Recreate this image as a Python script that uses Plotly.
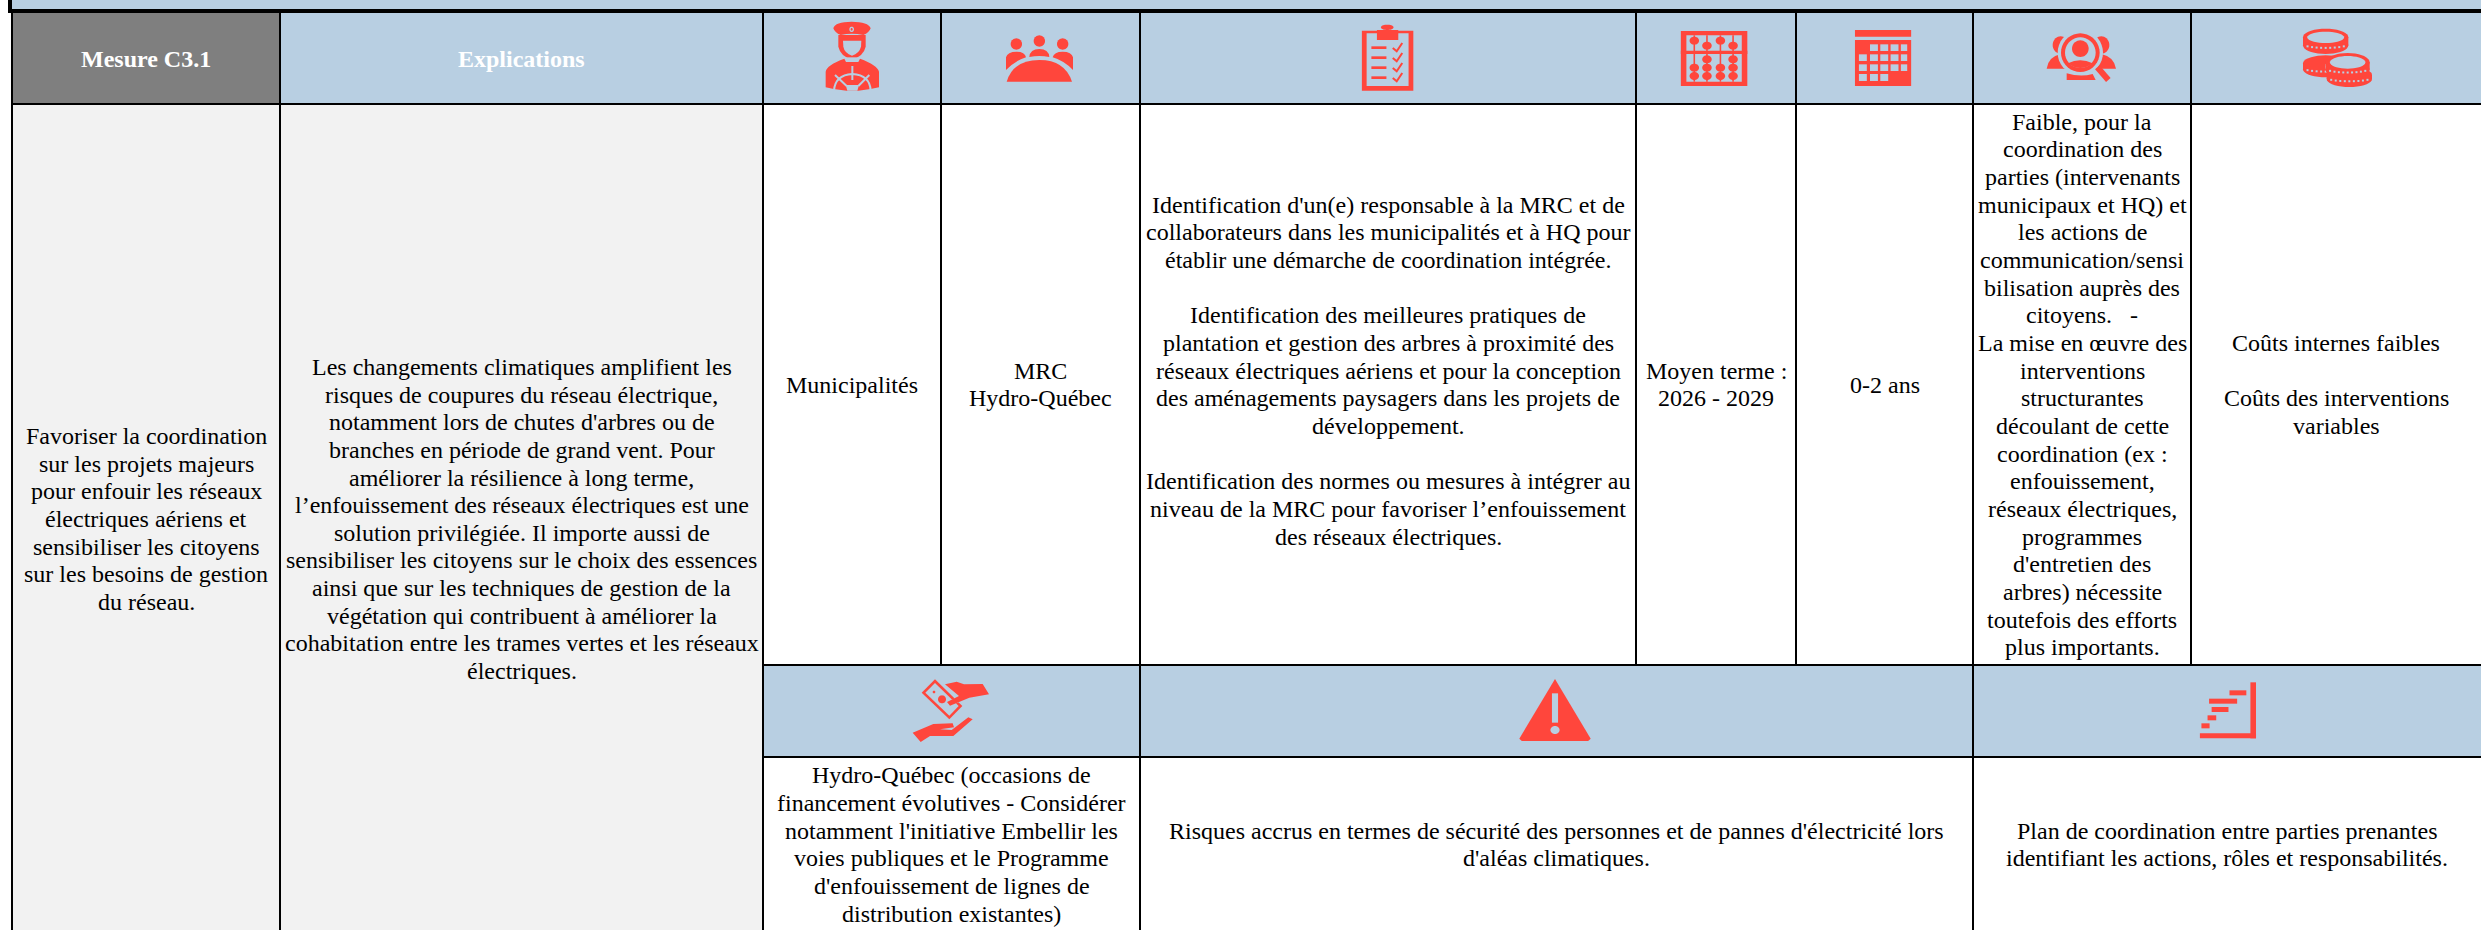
import math
import plotly.graph_objects as go

# ---------- content ----------
header_left = ["Mesure C3.1", "Explications"]
measure_lines = ["Favoriser la coordination", "sur les projets majeurs", "pour enfouir les réseaux",
                 "électriques aériens et", "sensibiliser les citoyens", "sur les besoins de gestion", "du réseau."]
explain_lines = ["Les changements climatiques amplifient les", "risques de coupures du réseau électrique,",
                 "notamment lors de chutes d'arbres ou de", "branches en période de grand vent. Pour",
                 "améliorer la résilience à long terme,", "l’enfouissement des réseaux électriques est une",
                 "solution privilégiée. Il importe aussi de", "sensibiliser les citoyens sur le choix des essences",
                 "ainsi que sur les techniques de gestion de la", "végétation qui contribuent à améliorer la",
                 "cohabitation entre les trames vertes et les réseaux", "électriques."]
who_lines = ["Municipalités"]
partner_lines = ["MRC", "Hydro-Québec"]
action_lines = ["Identification d'un(e) responsable à la MRC et de", "collaborateurs dans les municipalités et à HQ pour",
                "établir une démarche de coordination intégrée.", "",
                "Identification des meilleures pratiques de", "plantation et gestion des arbres à proximité des",
                "réseaux électriques aériens et pour la conception", "des aménagements paysagers dans les projets de",
                "développement.", "",
                "Identification des normes ou mesures à intégrer au", "niveau de la MRC pour favoriser l’enfouissement",
                "des réseaux électriques.", ""]
term_lines = ["Moyen terme :", "2026 - 2029"]
duration_lines = ["0-2 ans"]
effort_lines = ["Faible, pour la", "coordination des", "parties (intervenants", "municipaux et HQ) et",
                "les actions de", "communication/sensi", "bilisation auprès des", "citoyens.   -",
                "La mise en œuvre des", "interventions", "structurantes", "découlant de cette", "coordination (ex :",
                "enfouissement,", "réseaux électriques,", "programmes", "d'entretien des", "arbres) nécessite",
                "toutefois des efforts", "plus importants."]
cost_lines = ["Coûts internes faibles", "", "Coûts des interventions", "variables"]
funding_lines = ["Hydro-Québec (occasions de", "financement évolutives - Considérer",
                 "notamment l'initiative Embellir les", "voies publiques et le Programme",
                 "d'enfouissement de lignes de", "distribution existantes)"]
risk_lines = ["Risques accrus en termes de sécurité des personnes et de pannes d'électricité lors",
              "d'aléas climatiques."]
deliver_lines = ["Plan de coordination entre parties prenantes",
                 "identifiant les actions, rôles et responsabilités."]

# ---------- layout of the page ----------
W, H = 2481, 930
BLUE, RED, GREY, PALE = "#B8CFE2", "#FF463C", "#7F7F7F", "#F2F2F2"
FONT = "Liberation Serif"
FS = 24
LH = 27.65
C = [12, 280, 763, 941, 1140, 1636, 1796, 1973, 2191, W]
Y_TOP, Y_HEAD, Y_MID1, Y_MID2 = 13, 104, 665, 757

shapes, annos = [], []


def rect(x0, y0, x1, y1, color):
    shapes.append(dict(type="rect", x0=x0, y0=y0, x1=x1, y1=y1, fillcolor=color,
                       line=dict(width=0), layer="below", xref="x", yref="y"))


def line(x0, y0, x1, y1, w=2, color="black"):
    shapes.append(dict(type="line", x0=x0, y0=y0, x1=x1, y1=y1, line=dict(color=color, width=w),
                       layer="below", xref="x", yref="y"))


def text(cx, cy, lines, color="black", bold=False, size=FS):
    n = len(lines)
    for i, ln in enumerate(lines):
        if not ln:
            continue
        t = "<b>" + ln + "</b>" if bold else ln
        annos.append(dict(x=cx, y=cy + (i - (n - 1) / 2) * LH, xref="x", yref="y", text=t, showarrow=False,
                          xanchor="center", yanchor="middle", align="center",
                          font=dict(family=FONT, size=size, color=color)))


def path(d, fill=RED, stroke=None, w=0):
    s = dict(type="path", path=d, xref="x", yref="y", layer="below",
             line=dict(width=w, color=stroke or "rgba(0,0,0,0)"))
    s["fillcolor"] = fill if fill else "rgba(0,0,0,0)"
    shapes.append(s)


class Ico:
    """Draws in zoom-space coordinates: (ox + u/sx, oy + v/sy)."""
    def __init__(self, ox, oy, sx=3.0, sy=3.0):
        self.ox, self.oy, self.sx, self.sy = ox, oy, sx, sy

    def p(self, u, v):
        return f"{self.ox + u / self.sx:.2f},{self.oy + v / self.sy:.2f}"

    def poly(self, pts, fill=RED):
        path("M" + " L".join(self.p(*q) for q in pts) + " Z", fill)

    def ell(self, cx, cy, rx, ry=None, fill=RED, stroke=None, w=0):
        ry = rx if ry is None else ry
        pts = [(cx + rx * math.cos(a * math.pi / 18), cy + ry * math.sin(a * math.pi / 18)) for a in range(36)]
        path("M" + " L".join(self.p(*q) for q in pts) + " Z", fill, stroke, w)

    def curve(self, d, fill=RED, stroke=None, w=0):
        out = []
        for seg in d:
            k, *c = seg
            pairs = [self.p(c[i], c[i + 1]) for i in range(0, len(c), 2)]
            out.append(k + " ".join(pairs))
        path(" ".join(out), fill, stroke, w)

    def seg(self, u0, v0, u1, v1, w=2, color=BLUE):
        line(self.ox + u0 / self.sx, self.oy + v0 / self.sy, self.ox + u1 / self.sx, self.oy + v1 / self.sy, w, color)


# ---------- backgrounds ----------
rect(10, 0, W, Y_TOP, BLUE)
rect(C[0], Y_TOP, C[1], Y_HEAD, GREY)
rect(C[1], Y_TOP, W, Y_HEAD, BLUE)
rect(C[0], Y_HEAD, C[2], H, PALE)
rect(C[2], Y_MID1, W, Y_MID2, BLUE)

# ---------- rules ----------
line(10, 0, 10, 13, 4)
line(C[0], Y_TOP, C[0], H, 2)
for x in C[1:9]:
    y_end = H if x in (280, 763, 1140, 1973) else Y_MID1
    line(x, Y_TOP, x, y_end, 2)
line(8, 11, W, 11, 4)
line(C[0], Y_HEAD, W, Y_HEAD, 2)
line(C[2], Y_MID1, W, Y_MID1, 2)
line(C[2], Y_MID2, W, Y_MID2, 2)

# ---------- texts ----------
mid = lambda a, b: (a + b) / 2
yc = mid(Y_HEAD, Y_MID1)
text(mid(C[0], C[1]), 59, header_left[:1], "white", True)
text(mid(C[1], C[2]), 59, header_left[1:], "white", True)
text(mid(C[0], C[1]), 519, measure_lines)
text(mid(C[1], C[2]), 519, explain_lines)
text(mid(C[2], C[3]), yc, who_lines)
text(mid(C[3], C[4]), yc, partner_lines)
text(mid(C[4], C[5]), yc, action_lines)
text(mid(C[5], C[6]), yc, term_lines)
text(mid(C[6], C[7]), yc, duration_lines)
text(mid(C[7], C[8]), yc, effort_lines)
text(mid(C[8], C[9]), yc, cost_lines)
yb = mid(Y_MID2, H) + 1
text(mid(C[2], C[4]), yb, funding_lines)
text(mid(C[4], C[7]), yb, risk_lines)
text(mid(C[7], C[9]), yb, deliver_lines)

# ---------- icons ----------
# captain
a = Ico(800, 0)
a.curve([("M", 115, 105), ("L", 197, 105), ("L", 197, 140), ("Q", 190, 170, 156, 178), ("Q", 122, 170, 115, 140), ("Z",)])
a.curve([("M", 129, 122), ("L", 184, 122), ("L", 183, 140), ("Q", 178, 160, 156, 167), ("Q", 134, 160, 130, 140), ("Z",)], BLUE)
a.curve([("M", 100, 85), ("Q", 105, 65, 155, 65), ("Q", 205, 65, 212, 85), ("Q", 208, 98, 190, 105), ("Q", 155, 97, 122, 105), ("Q", 104, 98, 100, 85), ("Z",)])
a.ell(155, 88, 7, 8, BLUE)
a.ell(155, 88, 3, 4, RED)
a.curve([("M", 138, 172), ("L", 175, 172), ("L", 175, 184), ("L", 138, 184), ("Z",)], BLUE)
a.curve([("M", 77, 215), ("Q", 80, 195, 133, 176), ("L", 138, 186), ("L", 175, 186), ("L", 180, 176),
         ("Q", 232, 195, 237, 215), ("L", 237, 262), ("Q", 205, 270, 175, 272), ("L", 140, 272), ("Q", 105, 270, 77, 262), ("Z",)])
a.seg(157, 198, 157, 240, 2)
a.seg(105, 225, 140, 258, 2)
a.seg(208, 225, 175, 258, 2)
a.curve([("M", 102, 272), ("Q", 105, 225, 157, 222), ("Q", 210, 225, 212, 272)], None, BLUE, 2)
a.poly([(137, 255), (177, 255), (172, 272), (142, 272)], BLUE)
# team
for cx, cy in ((649, 132), (718, 123), (788, 132)):
    a.ell(cx, cy, 17)
a.curve([("M", 618, 210), ("L", 618, 172), ("Q", 622, 155, 650, 155), ("Q", 675, 155, 678, 172), ("Q", 645, 182, 618, 210), ("Z",)])
a.curve([("M", 688, 171), ("Q", 690, 147, 718, 147), ("Q", 746, 147, 748, 171), ("Q", 718, 165, 688, 171), ("Z",)])
a.curve([("M", 819, 210), ("L", 819, 172), ("Q", 815, 155, 788, 155), ("Q", 762, 155, 758, 172), ("Q", 792, 182, 819, 210), ("Z",)])
a.curve([("M", 620, 245), ("Q", 640, 180, 718, 180), ("Q", 795, 180, 816, 245), ("Z",)])

# clipboard / abacus / calendar (anisotropic zoom)
b = Ico(1240, 0, 1568 / 1241, 3)
b.poly([(154, 92), (219, 92), (219, 272), (154, 272)])
b.poly([(160, 100), (213, 100), (213, 258), (160, 258)], BLUE)
b.poly([(173, 90), (200, 90), (200, 120), (173, 120)])
b.ell(186, 82, 8, 8)
for v in (142, 172, 202, 232):
    b.poly([(166, v - 3), (185, v - 3), (185, v + 5), (166, v + 5)])
    b.curve([("M", 193, v + 2), ("L", 198, v + 12), ("L", 205, v - 13)], None, RED, 2)
# abacus
b.poly([(557, 93), (641, 93), (641, 258), (557, 258)])
b.poly([(564, 106), (634, 106), (634, 245), (564, 245)], BLUE)
b.poly([(557, 152), (641, 152), (641, 162), (557, 162)])
beads = {574: (122, 203, 228), 590: (137, 178, 203, 228), 607: (122, 203, 228), 623: (137, 178, 203, 228)}
for u, vs in beads.items():
    b.poly([(u - 1, 106), (u + 1, 106), (u + 1, 245), (u - 1, 245)])
    for v in vs:
        b.ell(u, v, 6, 12)
# calendar
b.poly([(777, 90), (848, 90), (848, 110), (777, 110)])
b.poly([(777, 120), (848, 120), (848, 258), (777, 258)])
cols = [(782, 792), (796, 806), (809, 819), (822, 832), (835, 843)]
rows = [((133, 153), cols[1:]), ((163, 183), cols), ((193, 213), cols), ((222, 243), cols[:3])]
for (v0, v1), cc in rows:
    for u0, u1 in cc:
        b.poly([(u0, v0), (u1, v0), (u1, v1), (u0, v1)], BLUE)

# people search + coins
c = Ico(1900, 0)
c.ell(482, 135, 24, 26)
c.ell(604, 135, 24, 26)
c.curve([("M", 440, 206), ("Q", 445, 170, 482, 162), ("L", 510, 206), ("Z",)])
c.curve([("M", 648, 206), ("Q", 642, 170, 604, 162), ("L", 580, 206), ("Z",)])
c.ell(541, 158, 68, 68, BLUE)
c.ell(541, 158, 58, 58)
c.ell(541, 158, 46, 46, BLUE)
c.ell(541, 146, 25, 25)
c.curve([("M", 504, 190), ("Q", 540, 172, 578, 190), ("Q", 562, 204, 541, 204), ("Q", 520, 204, 504, 190), ("Z",)])
c.curve([("M", 500, 240), ("L", 500, 220), ("Q", 541, 232, 578, 222), ("L", 587, 240), ("Z",)])
c.seg(592, 202, 625, 240, 6, RED)


def coin(o, cx, cy, rx, ry, h, hole):
    o.ell(cx, cy + h, rx, ry)
    o.poly([(cx - rx, cy), (cx + rx, cy), (cx + rx, cy + h), (cx - rx, cy + h)])
    o.ell(cx, cy, rx, ry)
    if hole:
        o.ell(cx, cy, rx - 13, ry - 9, BLUE)
    for k in range(-4, 5):
        u = cx + k * rx * 0.2
        v = cy + h + ry * 0.45 * math.sqrt(max(0.0, 1 - (k * 0.2) ** 2)) - 4
        o.poly([(u - 3, v - 3), (u + 3, v - 3), (u + 3, v + 3), (u - 3, v + 3)], BLUE)


coin(c, 1277, 190, 68, 24, 18, False)
coin(c, 1277, 112, 68, 26, 24, True)
c.ell(1348, 200, 72, 40, BLUE)
coin(c, 1348, 225, 68, 24, 12, False)
coin(c, 1343, 187, 66, 28, 22, True)

# money exchange
d = Ico(760, 660)
d.poly([(525, 58), (607, 138), (568, 178), (485, 98)])
d.poly([(525, 69), (596, 138), (568, 167), (496, 98)], BLUE)
d.ell(546, 118, 12, 12)
d.ell(522, 96, 4, 4)
d.poly([(555, 73), (590, 65), (612, 73), (668, 72), (687, 103), (628, 113), (568, 139), (560, 128), (590, 112), (578, 90)], BLUE)
d.poly([(555, 73), (590, 65), (612, 73), (668, 72), (687, 103), (628, 113), (570, 137), (561, 126), (597, 108)])
d.poly([(458, 218), (520, 192), (578, 190), (582, 202), (540, 208), (575, 210), (625, 172), (638, 178), (580, 228), (510, 228), (482, 246)])

# warning
e = Ico(1480, 660, 1.96, 3)
e.poly([(147, 57), (217, 236), (212, 243), (82, 243), (77, 236)])
e.poly([(141, 100), (153, 100), (153, 188), (141, 188)], BLUE)
e.ell(147, 210, 9, 12, BLUE)

# stairs
for u0, v0, u1, v1 in ((1510, 67, 1521, 235), (1411, 220, 1521, 235), (1469, 91, 1502, 106),
                       (1429, 116, 1484, 131), (1434, 141, 1467, 156), (1426, 166, 1443, 181), (1414, 190, 1430, 205)):
    e.poly([(u0, v0), (u1, v0), (u1, v1), (u0, v1)])

fig = go.Figure()
fig.update_layout(
    width=W, height=H, margin=dict(l=0, r=0, t=0, b=0), paper_bgcolor="white", plot_bgcolor="white",
    xaxis=dict(range=[0, W], visible=False, fixedrange=True),
    yaxis=dict(range=[H, 0], visible=False, fixedrange=True),
    shapes=shapes, annotations=annos, showlegend=False, hovermode=False,
)
fig.write_html("out.html", config=dict(displayModeBar=False),
               post_script="document.body.style.margin='0';document.body.style.overflow='hidden';")
